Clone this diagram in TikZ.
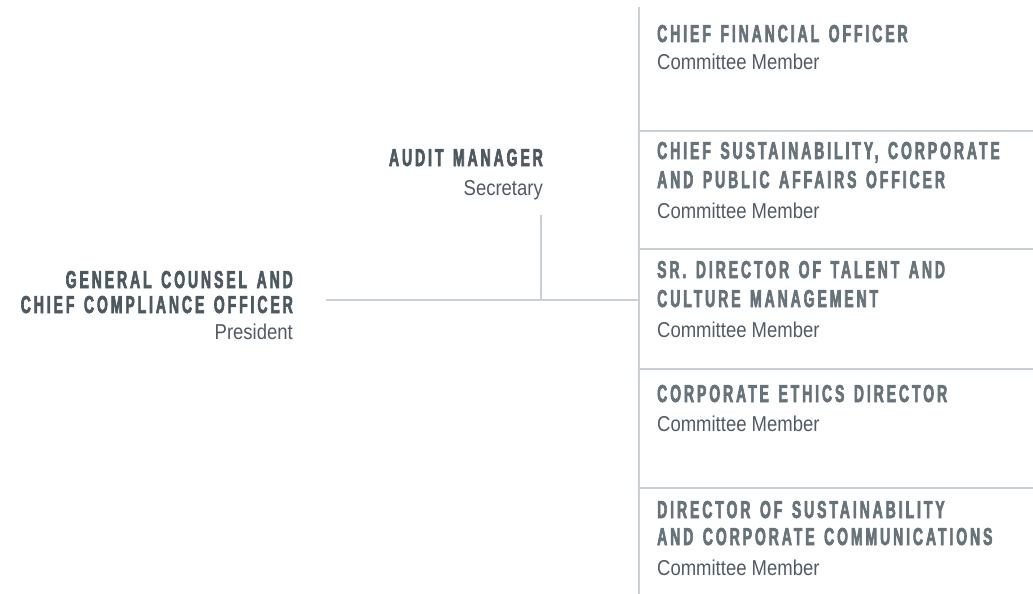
\documentclass[tikz,border=0pt]{standalone}
\usepackage{fontspec}
\setmainfont{Liberation Sans}
\newfontfamily\postfont[FakeStretch=0.57,LetterSpace=12,WordSpace=1.4,BoldFeatures={FakeBold=2.5}]{Liberation Sans}
\newfontfamily\dutyfont[FakeStretch=0.86]{Liberation Sans}
\usetikzlibrary{positioning}

\definecolor{postgray}{HTML}{66737B}
\definecolor{leadgray}{HTML}{4D5961}
\definecolor{dutygray}{HTML}{505B63}
\definecolor{rulegray}{HTML}{C8CFD5}

\tikzset{
  post/.style={inner sep=0pt, anchor=base west, text=postgray,
    font=\postfont\bfseries\fontsize{24.5}{28.5}\selectfont},
  lead/.style={post, anchor=base east, text=leadgray},
  duty/.style={inner sep=0pt, anchor=base west, text=dutygray,
    font=\dutyfont\fontsize{21.5}{26}\selectfont},
  rule/.style={draw=rulegray, line width=1.3pt}
}

\begin{document}
\begin{tikzpicture}[x=1pt, y=-1pt]
  \useasboundingbox (0,0) rectangle (1033,594);

  % frame of the committee column
  \coordinate (barTop) at (639,7);
  \coordinate (barEnd) at (639,594);
  \draw[rule] (barTop) -- (barEnd);
  \foreach \y in {131,249,369,488}
    \draw[rule] (639,\y) -- (1033,\y);

  % committee members
  \node[post] (cfo) at (657,42) {CHIEF FINANCIAL OFFICER};
  \node[duty] (cfoDuty) at (657,69.5) {Committee Member};

  \node[post] (csr) at (657,159) {CHIEF SUSTAINABILITY, CORPORATE};
  \node[post] (csrB) at (657,188) {AND PUBLIC AFFAIRS OFFICER};
  \node[duty] (csrDuty) at (657,218) {Committee Member};

  \node[post] (talent) at (657,278) {SR. DIRECTOR OF TALENT AND};
  \node[post] (talentB) at (657,307) {CULTURE MANAGEMENT};
  \node[duty] (talentDuty) at (657,337) {Committee Member};

  \node[post] (ethics) at (657,402) {CORPORATE ETHICS DIRECTOR};
  \node[duty] (ethicsDuty) at (657,431) {Committee Member};

  \node[post] (comms) at (657,518) {DIRECTOR OF SUSTAINABILITY};
  \node[post] (commsB) at (657,545) {AND CORPORATE COMMUNICATIONS};
  \node[duty] (commsDuty) at (657,575) {Committee Member};

  % president and secretary
  \node[lead] (counsel) at (293,288) {GENERAL COUNSEL AND};
  \node[lead] (counselB) at (293,313) {CHIEF COMPLIANCE OFFICER};
  \node[duty, anchor=base east] (counselDuty) at (293,339) {President};

  \node[lead] (audit) at (543,166) {AUDIT MANAGER};
  \node[duty, anchor=base east] (auditDuty) at (543,195) {Secretary};

  % connectors
  \coordinate (join) at (639,300);
  \coordinate (split) at (541,300);
  \coordinate (counselEnd) at (326,300);
  \coordinate (auditEnd) at (541,215);
  \draw[rule] (counselEnd) -- (join);
  \draw[rule] (auditEnd) -- (split);
\end{tikzpicture}
\end{document}
